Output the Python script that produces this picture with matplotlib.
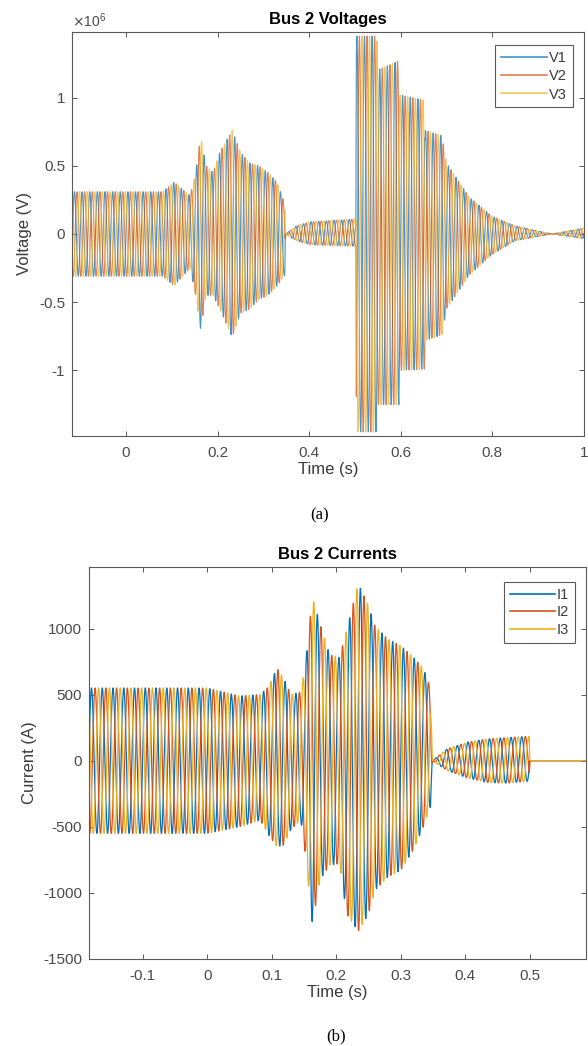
import matplotlib
matplotlib.use('Agg')
import matplotlib.pyplot as plt
import numpy as np
from matplotlib.ticker import FuncFormatter

plt.rcParams.update({'font.family': ['Liberation Sans', 'DejaVu Sans'],
                     'font.size': 11,
                     'axes.unicode_minus': False})

# MATLAB default line colours
colors = ['#0072BD', '#D95319', '#EDB120']
f0 = 60.0  # system frequency (Hz)

# Bus 2 voltage envelope breakpoints (x 1e6 V)
v_time = [-0.13, 0.08, 0.105, 0.14, 0.152, 0.163, 0.175, 0.19, 0.205, 0.232,
          0.25, 0.27, 0.29, 0.31, 0.33, 0.347, 0.348, 0.372, 0.403, 0.502,
          0.503, 0.548, 0.549, 0.596, 0.597, 0.652, 0.653, 0.69, 0.70, 0.75,
          0.80, 0.85, 0.93, 1.01]
v_upper = [0.31, 0.31, 0.38, 0.28, 0.45, 0.72, 0.50, 0.45, 0.60, 0.76,
           0.60, 0.52, 0.50, 0.45, 0.38, 0.22, 0.0, 0.06, 0.09, 0.11,
           1.45, 1.45, 1.20, 1.27, 1.02, 0.98, 0.76, 0.72, 0.52, 0.27,
           0.13, 0.06, 0.0, 0.05]
v_lower = [-0.31, -0.31, -0.38, -0.25, -0.45, -0.70, -0.45, -0.45, -0.55, -0.76,
           -0.58, -0.55, -0.48, -0.45, -0.38, -0.30, 0.0, -0.05, -0.08, -0.09,
           -1.45, -1.45, -1.25, -1.25, -1.00, -0.99, -0.78, -0.74, -0.55, -0.30,
           -0.15, -0.05, 0.0, -0.04]

# Bus 2 current envelope breakpoints (A)
i_time = [-0.19, 0.0, 0.05, 0.082, 0.095, 0.108, 0.118, 0.13, 0.145, 0.152,
          0.163, 0.175, 0.19, 0.205, 0.216, 0.234, 0.25, 0.26, 0.28, 0.30,
          0.32, 0.335, 0.346, 0.349, 0.372, 0.403, 0.434, 0.465, 0.499, 0.50,
          0.60]
i_upper = [550, 550, 490, 500, 560, 700, 630, 500, 520, 720,
           1240, 1035, 800, 780, 985, 1340, 1175, 1020, 920, 870,
           780, 700, 550, 0, 90, 140, 165, 175, 185, 0,
           0]
i_lower = [-550, -550, -500, -450, -560, -650, -640, -520, -450, -700,
           -1235, -900, -790, -780, -1160, -1290, -1160, -980, -880, -830,
           -670, -500, -350, 0, -75, -130, -165, -170, -155, 0,
           0]

v_labels = ['V1', 'V2', 'V3']
i_labels = ['I1', 'I2', 'I3']
phase_shift = [0.0, -2 * np.pi / 3, 2 * np.pi / 3]


def three_phase(t_pts, up_pts, lo_pts, t):
    up = np.interp(t, t_pts, up_pts)
    lo = np.interp(t, t_pts, lo_pts)
    mid = (up + lo) / 2
    amp = (up - lo) / 2
    return [mid + amp * np.sin(2 * np.pi * f0 * t + ph) for ph in phase_shift]


def matlab_axes(ax):
    for s in ax.spines.values():
        s.set_color('#5a5a5a')
        s.set_linewidth(0.8)
    ax.tick_params(direction='in', length=3.5, width=0.7, colors='#5a5a5a',
                   labelcolor='#4a4a4a', top=True, right=True, labelsize=11)
    ax.tick_params(axis='x', pad=7)
    ax.tick_params(axis='y', pad=5)
    ax.xaxis.set_major_formatter(FuncFormatter(lambda v, p: '%g' % round(v, 6)))
    ax.yaxis.set_major_formatter(FuncFormatter(lambda v, p: '%g' % round(v, 6)))


def style_legend(leg):
    leg.get_frame().set_edgecolor('#5a5a5a')
    leg.get_frame().set_linewidth(0.8)
    for line in leg.get_lines():
        line.set_linewidth(1.2)
    for txt in leg.get_texts():
        txt.set_color('#3a3a3a')


fig = plt.figure(figsize=(5.88, 10.46), dpi=100)

# (a) voltages
ax1 = fig.add_axes([0.1224, 0.5832, 0.8706, 0.3862])
t1 = np.arange(-0.13, 1.01, 2e-5)
for y, c, lab in zip(three_phase(v_time, v_upper, v_lower, t1), colors, v_labels):
    ax1.plot(t1, y, color=c, lw=0.8, alpha=0.75, label=lab)
ax1.set_xlim(-0.118, 1.0)
ax1.set_ylim(-1.48, 1.48)
ax1.set_xticks([0, 0.2, 0.4, 0.6, 0.8, 1])
ax1.set_yticks([-1, -0.5, 0, 0.5, 1])
matlab_axes(ax1)
ax1.text(0.0, 1.004, r'$\times\mathregular{10^{6}}$', transform=ax1.transAxes,
         ha='left', va='bottom', fontsize=10, color='#4a4a4a')
ax1.set_title('Bus 2 Voltages', fontsize=12, fontweight='bold', pad=6)
ax1.set_xlabel('Time (s)', fontsize=12, color='#3a3a3a', labelpad=2)
ax1.set_ylabel('Voltage (V)', fontsize=12, color='#3a3a3a')
ax1.yaxis.set_label_coords(-0.078, 0.5)
leg1 = ax1.legend(loc='upper right', fontsize=10.5, handlelength=3.2,
                  handletextpad=0.15, borderpad=0.4, labelspacing=0.3,
                  borderaxespad=0, fancybox=False, framealpha=1,
                  bbox_to_anchor=(0.979, 0.968))
style_legend(leg1)

# (b) currents
ax2 = fig.add_axes([0.1514, 0.0832, 0.8452, 0.3747])
t2 = np.arange(-0.19, 0.60, 2e-5)
for y, c, lab in zip(three_phase(i_time, i_upper, i_lower, t2), colors, i_labels):
    ax2.plot(t2, y, color=c, lw=0.9, label=lab)
ax2.set_xlim(-0.183, 0.587)
ax2.set_ylim(-1500, 1465)
ax2.set_xticks([-0.1, 0, 0.1, 0.2, 0.3, 0.4, 0.5])
ax2.set_yticks([-1500, -1000, -500, 0, 500, 1000])
matlab_axes(ax2)
ax2.set_title('Bus 2 Currents', fontsize=12, fontweight='bold', pad=6)
ax2.set_xlabel('Time (s)', fontsize=12, color='#3a3a3a', labelpad=2)
ax2.set_ylabel('Current (A)', fontsize=12, color='#3a3a3a')
ax2.yaxis.set_label_coords(-0.105, 0.5)
leg2 = ax2.legend(loc='upper right', fontsize=10.5, handlelength=3.1,
                  handletextpad=0.15, borderpad=0.4, labelspacing=0.25,
                  borderaxespad=0, fancybox=False, framealpha=1,
                  bbox_to_anchor=(0.978, 0.962))
style_legend(leg2)

# sub-figure captions
fig.text(320 / 588, 1 - 515 / 1046, '(a)', ha='center', va='center',
         fontsize=12, family=['Liberation Serif', 'DejaVu Serif'])
fig.text(336 / 588, 1 - 1036 / 1046, '(b)', ha='center', va='center',
         fontsize=12, family=['Liberation Serif', 'DejaVu Serif'])

fig.savefig('out.png', dpi=100)
